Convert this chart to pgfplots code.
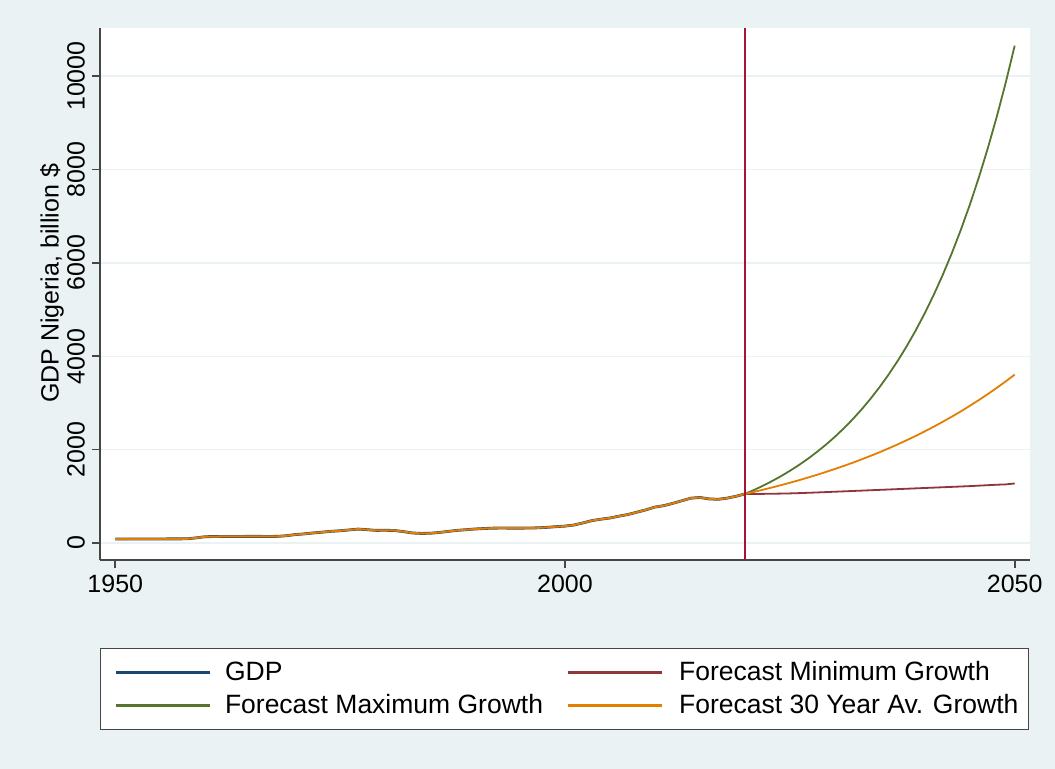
\documentclass[border=0pt]{standalone}
\usepackage{fontspec}
\setmainfont{Liberation Sans}
\usepackage{pgfplots}
\usepackage{pgfplotstable}
\pgfplotsset{compat=1.18}

\definecolor{bgcol}{RGB}{234,242,243}
\definecolor{gridcol}{RGB}{234,242,243}
\definecolor{axisgray}{RGB}{70,70,70}
\definecolor{stnavy}{RGB}{26,71,111}
\definecolor{stmaroon}{RGB}{144,53,59}
\definecolor{stgreen}{RGB}{85,117,47}
\definecolor{storange}{RGB}{227,126,0}
\definecolor{vline}{RGB}{165,20,55}

% Observed GDP, billion $
\pgfplotstableread{
year gdp
1950 85
1951 85
1952 86
1953 86
1954 87
1955 87
1956 88
1957 88
1958 90
1959 110
1960 135
1961 138
1962 140
1963 140
1964 141
1965 142
1966 142
1967 140
1968 142
1969 155
1970 180
1971 195
1972 215
1973 232
1974 250
1975 262
1976 280
1977 298
1978 285
1979 270
1980 272
1981 268
1982 245
1983 215
1984 205
1985 208
1986 225
1987 248
1988 270
1989 285
1990 300
1991 310
1992 318
1993 320
1994 318
1995 318
1996 320
1997 325
1998 335
1999 350
2000 362
2001 385
2002 430
2003 480
2004 510
2005 535
2006 575
2007 610
2008 660
2009 710
2010 770
2011 800
2012 850
2013 905
2014 960
2015 975
2016 945
2017 935
2018 960
2019 1000
2020 1050
}\gdphist

% Forecast scenarios, billion $
\pgfplotstableread{
year mingr maxgr avggr
2020 1050 1050 1050
2021 1050 1134 1094
2022 1052 1225 1140
2023 1055 1324 1188
2024 1058 1430 1238
2025 1062 1545 1290
2026 1068 1669 1344
2027 1075 1803 1401
2028 1082 1948 1459
2029 1090 2104 1521
2030 1098 2273 1585
2031 1106 2456 1651
2032 1114 2653 1720
2033 1122 2866 1793
2034 1130 3096 1868
2035 1138 3345 1946
2036 1146 3613 2028
2037 1154 3903 2113
2038 1162 4217 2202
2039 1170 4555 2294
2040 1178 4921 2391
2041 1186 5316 2491
2042 1194 5743 2596
2043 1202 6204 2705
2044 1210 6702 2818
2045 1218 7240 2937
2046 1228 7821 3060
2047 1238 8449 3188
2048 1248 9127 3322
2049 1255 9860 3462
2050 1275 10652 3607
}\gdpfc

\begin{document}
\begin{tikzpicture}
\fill[bgcol] (0,0) rectangle (527.5pt,384.5pt);
\begin{axis}[
  at={(50pt,104.5pt)}, anchor=south west,
  scale only axis, width=465pt, height=266pt,
  xmin=1948.3, xmax=2051.7, ymin=-364, ymax=11030,
  axis background/.style={fill=white},
  axis lines=left,
  axis line style={-, draw=axisgray, line width=0.8pt},
  xtick={1950,2000,2050},
  ytick={0,2000,4000,6000,8000,10000},
  scaled y ticks=false,
  tick align=outside,
  major tick length=4pt,
  tick style={axisgray, line width=0.8pt},
  ymajorgrids,
  grid style={gridcol, line width=0.7pt},
  ticklabel style={font=\fontsize{12.5}{14}\selectfont, text=black},
  yticklabel style={rotate=90, anchor=south},
  /pgf/number format/1000 sep={},
  /pgf/number format/assume math mode=true,
  ylabel={GDP Nigeria, billion \$},
  every axis y label/.style={at={(axis description cs:-0.0516,0.52)}, rotate=90, anchor=center, font=\fontsize{12.5}{14}\selectfont},
  legend columns=2,
  legend cell align=left,
  legend image code/.code={\path (0pt,0pt); \draw[#1, line width=1.2pt] (4pt,0pt) -- (51pt,0pt);},
  legend style={
    at={(axis description cs:0,-0.1654)}, anchor=north west,
    draw=axisgray, fill=white, text=black,
    font=\fontsize{13.25}{15}\selectfont,
    inner xsep=3pt, inner ysep=4.5pt,
    row sep=1.5pt,
    /tikz/column 1/.style={column sep=5pt},
    /tikz/column 2/.style={column sep=6pt},
    /tikz/column 3/.style={column sep=6pt},
  },
]
\addplot[stnavy, line width=1.4pt] table[x=year, y=gdp] {\gdphist};
\addlegendentry{GDP}
\addplot[stmaroon, line width=0.9pt] table[x=year, y=mingr] {\gdpfc};
\addlegendentry{Forecast Minimum Growth}
\addplot[stgreen, line width=0.9pt] table[x=year, y=maxgr] {\gdpfc};
\addlegendentry{Forecast Maximum Growth}
\addplot[storange, line width=0.9pt] table[x=year, y=avggr] {\gdpfc};
\addlegendentry{Forecast 30 Year Av. Growth}
% the 30-year-average series also runs over the observed years
\addplot[storange, line width=1pt, forget plot] table[x=year, y=gdp] {\gdphist};
% start of the forecast period
\addplot[vline, line width=1pt, forget plot] coordinates {(2020,-364) (2020,11030)};
\end{axis}
\pgfresetboundingbox
\path[use as bounding box] (0,0) rectangle (527.5pt,384.5pt);
\end{tikzpicture}
\end{document}
